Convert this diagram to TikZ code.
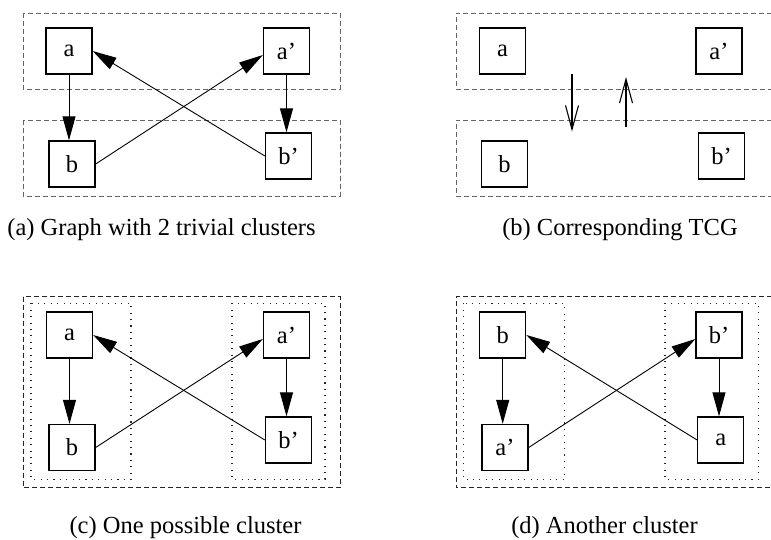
\documentclass[tikz,border=0pt]{standalone}
\usepackage{fontspec}
\setmainfont{Liberation Serif}
\usetikzlibrary{arrows.meta,calc}
\begin{document}
\begin{tikzpicture}[x=1pt,y=-1pt,
  vbox/.style={draw,line width=1.3pt,minimum width=46pt,minimum height=46pt,inner sep=0pt,font=\fontsize{24.5}{28}\selectfont},
  captxt/.style={anchor=base,inner sep=0pt,font=\fontsize{24.5}{28}\selectfont},
  edge/.style={line width=0.9pt,-{Triangle[length=24pt,width=13pt]}},
  tcg/.style={line width=1.1pt,-{Straight Barb[length=24pt,width=13pt,line width=1.1pt]}},
  clusterA/.style={dash pattern=on 5pt off 3pt,line width=0.9pt,black!60},
  clusterC/.style={dash pattern=on 5pt off 3pt,line width=0.9pt,black!85},
  dotbox/.style={dash pattern=on 1.1pt off 5.3pt,line width=1.1pt,black!85}]
\useasboundingbox (0,0) rectangle (771,539);
% ---------- (a)
\draw[clusterA] (23,13) rectangle (340,89);
\draw[clusterA] (23,120) rectangle (340,196);
\node[vbox] (aa) at (69,51) {a};
\node[vbox] (aap) at (286.5,51) {a’};
\node[vbox] (ab) at (72,164) {b};
\node[vbox] (abp) at (288.5,156) {b’};
\draw[edge] (aa.south) -- (aa.south |- ab.north);
\draw[edge] (aap.south) -- (aap.south |- abp.north);
\draw[edge] (ab.east) -- ([yshift=-4pt]aap.west);
\draw[edge] (abp.west) -- (aa.east);
\node[captxt] (capa) at (161.5,235) {(a) Graph with 2 trivial clusters};
% ---------- (b)
\draw[clusterA] (772,13) -- (456,13) -- (456,89) -- (772,89);
\draw[clusterA] (772,120) -- (456,120) -- (456,196) -- (772,196);
\node[vbox] (ba) at (502.5,51) {a};
\node[vbox] (bap) at (719,51) {a’};
\node[vbox] (bb) at (504.5,164) {b};
\node[vbox] (bbp) at (721.5,156) {b’};
\coordinate (d1) at (572,74);
\coordinate (d2) at (572,131.5);
\coordinate (u1) at (626,127);
\coordinate (u2) at (626,77);
\draw[tcg] (d1) -- (d2);
\draw[tcg] (u1) -- (u2);
\node[captxt] (capb) at (620,235) {(b) Corresponding TCG};
% ---------- (c)
\draw[clusterC] (23,296.7) rectangle (340,487.7);
\draw[dotbox] (31,303.3) rectangle (131,479.3);
\draw[dotbox] (232,303.3) rectangle (325,479.3);
\node[vbox] (ca) at (69.5,335) {a};
\node[vbox] (cap2) at (286.5,335) {a’};
\node[vbox] (cb) at (72,447.5) {b};
\node[vbox] (cbp) at (288.5,440) {b’};
\draw[edge] (ca.south) -- (ca.south |- cb.north);
\draw[edge] (cap2.south) -- (cap2.south |- cbp.north);
\draw[edge] (cb.east) -- ([yshift=-4pt]cap2.west);
\draw[edge] (cbp.west) -- (ca.east);
\node[captxt] (capc) at (185.5,533) {(c) One possible cluster};
% ---------- (d)
\draw[clusterC] (772,296.7) -- (456,296.7) -- (456,487.7) -- (772,487.7);
\draw[dotbox] (463.3,303.3) rectangle (564.3,479.3);
\draw[dotbox] (665,303.3) rectangle (758.3,479.3);
\node[vbox] (db) at (502.7,335) {b};
\node[vbox] (dbp) at (719,335) {b’};
\node[vbox] (dap) at (505,447.5) {a’};
\node[vbox] (da) at (720.8,440) {a};
\draw[edge] (db.south) -- (db.south |- dap.north);
\draw[edge] (dbp.south) -- (dbp.south |- da.north);
\draw[edge] (dap.east) -- ([yshift=-4pt]dbp.west);
\draw[edge] (da.west) -- (db.east);
\node[captxt] (capd) at (604.5,533) {(d) Another cluster};
\end{tikzpicture}
\end{document}
